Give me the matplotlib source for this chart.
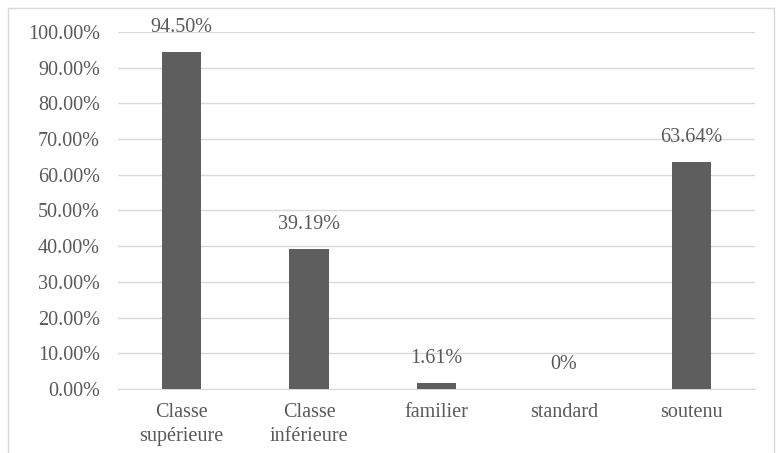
import matplotlib.pyplot as plt
import matplotlib.patches as patches

categories = ["Classe\nsupérieure", "Classe\ninférieure", "familier", "standard", "soutenu"]
values = [94.50, 39.19, 1.61, 0, 63.64]
labels = ["94.50%", "39.19%", "1.61%", "0%", "63.64%"]

plt.rcParams['font.family'] = ['Liberation Serif', 'DejaVu Serif']
txt = "#595959"
fs = 14.5

fig = plt.figure(figsize=(7.78, 4.53), dpi=100)
ax = fig.add_axes([0.1517, 0.1413, 0.8187, 0.7881])

x = range(len(categories))
ax.bar(x, values, width=0.31, color="#5e5e5e", zorder=3)
for i, (v, lab) in enumerate(zip(values, labels)):
    ax.annotate(lab, (i, v), xytext=(0, 17.5), textcoords="offset points",
                ha="center", va="center", fontsize=fs, color=txt)

ax.set_xlim(-0.5, len(categories) - 0.5)
ax.set_ylim(0, 100)
ax.set_yticks(range(0, 101, 10))
ax.set_yticklabels([f"{t:.2f}%" for t in range(0, 101, 10)])
ax.set_xticks(list(x))
ax.set_xticklabels(categories, linespacing=1.35)
ax.tick_params(length=0, labelsize=fs, labelcolor=txt)
ax.tick_params(axis="x", pad=10)
ax.tick_params(axis="y", pad=13)
ax.grid(axis="y", color="#d9d9d9", linewidth=1, zorder=0)
for s in ["top", "right", "left"]:
    ax.spines[s].set_visible(False)
ax.spines["bottom"].set_color("#d9d9d9")

border = patches.Rectangle((8 / 778, -0.1), 0.985, 1.1 - 8 / 453,
                           transform=fig.transFigure, fill=False,
                           edgecolor="#d9d9d9", linewidth=1, clip_on=False)
fig.patches.append(border)

fig.savefig("out.png", dpi=100)
